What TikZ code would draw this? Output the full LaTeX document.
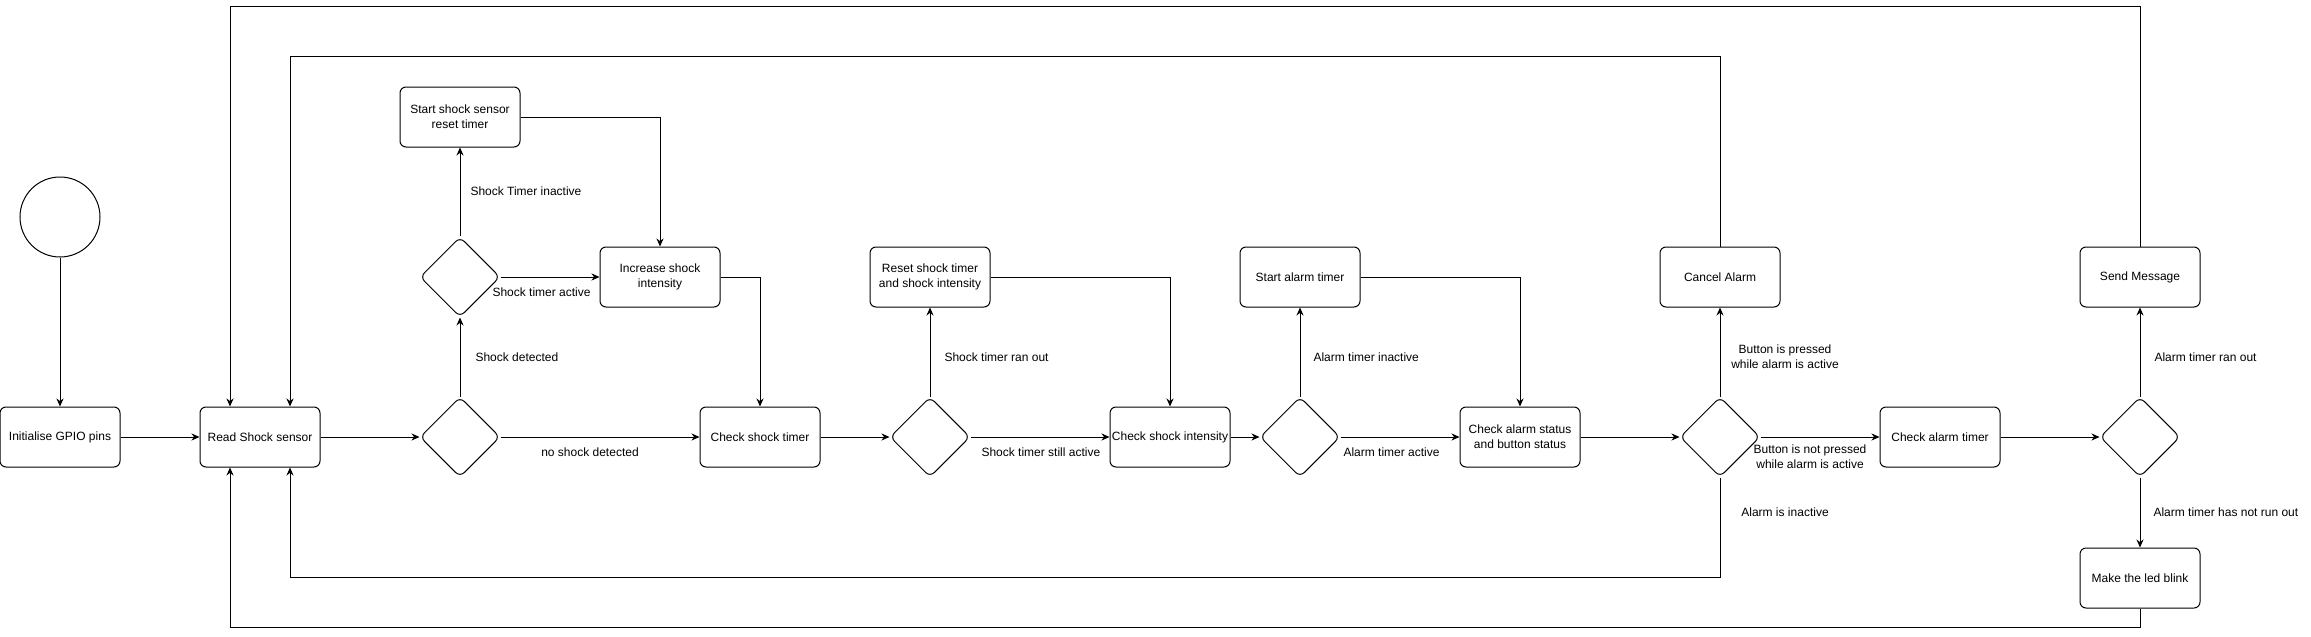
\documentclass[tikz,border=0pt]{standalone}
\usepackage{fontspec}
\setmainfont{Liberation Sans}
\usetikzlibrary{shapes.geometric,arrows.meta}
\begin{document}
\begin{tikzpicture}[x=1pt,y=-1pt,line width=1pt,
  every node/.style={font=\fontsize{12}{15}\selectfont},
  box/.style={draw,rounded corners=6,minimum width=120,minimum height=60,inner sep=1pt,align=center},
  dec/.style={draw,diamond,rounded corners=6,minimum width=80,minimum height=80,inner sep=0pt},
  lab/.style={inner sep=0pt,align=center},
  arr/.style={-{Stealth[length=8pt,width=7pt]}}]
\useasboundingbox (0,0) rectangle (2311,637);
\node[draw,circle,minimum size=80,inner sep=0pt] (start) at (60,217) {};
\node[box] (init) at (60,437) {Initialise GPIO pins};
\node[box] (read) at (260,437) {Read Shock sensor};
\node[dec] (dshock) at (460,437) {};
\node[dec] (dtimer) at (460,277) {};
\node[box] (startsh) at (460,117) {Start shock sensor\\reset timer};
\node[box] (incr) at (660,277) {Increase shock\\intensity};
\node[box] (chktimer) at (760,437) {Check shock timer};
\node[dec] (dran) at (930,437) {};
\node[box] (reset) at (930,277) {Reset shock timer\\and shock intensity};
\node[box] (chkint) at (1170,437) {Check shock intensity};
\node[dec] (dalarm) at (1300,437) {};
\node[box] (startal) at (1300,277) {Start alarm timer};
\node[box] (chkstat) at (1520,437) {Check alarm status\\and button status};
\node[dec] (dbutton) at (1720,437) {};
\node[box] (cancel) at (1720,277) {Cancel Alarm};
\node[box] (chkal) at (1940,437) {Check alarm timer};
\node[dec] (dalrun) at (2140,437) {};
\node[box] (send) at (2140,277) {Send Message};
\node[box] (blink) at (2140,578) {Make the led blink};
\draw[arr] (start) -- (init);
\draw[arr] (init) -- (read);
\draw[arr] (read) -- (dshock);
\draw[arr] (dshock) -- (dtimer);
\draw[arr] (dshock) -- (chktimer);
\draw[arr] (dtimer) -- (startsh);
\draw[arr] (dtimer) -- (incr);
\draw[arr] (startsh.east) -| (incr.north);
\draw[arr] (incr.east) -| (chktimer.north);
\draw[arr] (chktimer) -- (dran);
\draw[arr] (dran) -- (reset);
\draw[arr] (dran) -- (chkint);
\draw[arr] (reset.east) -| (chkint.north);
\draw[arr] (chkint) -- (dalarm);
\draw[arr] (dalarm) -- (startal);
\draw[arr] (dalarm) -- (chkstat);
\draw[arr] (startal.east) -| (chkstat.north);
\draw[arr] (chkstat) -- (dbutton);
\draw[arr] (dbutton) -- (cancel);
\draw[arr] (dbutton) -- (chkal);
\draw[arr] (chkal) -- (dalrun);
\draw[arr] (dalrun) -- (send);
\draw[arr] (dalrun) -- (blink);
\draw[arr] (cancel.north) -- ++(0,-190) -| ([xshift=30pt]read.north);
\draw[arr] (send.north) -- ++(0,-240) -| ([xshift=-30pt]read.north);
\draw[arr] (dbutton.south) -- ++(0,100) -| ([xshift=30pt]read.south);
\draw[arr] (blink.south) -- ++(0,19) -| ([xshift=-30pt]read.south);
\node[lab,anchor=west] (l1) at (470,191) {Shock Timer inactive};
\node[lab,anchor=west] (l2) at (492,292) {Shock timer active};
\node[lab,anchor=west] (l3) at (475,357) {Shock detected};
\node[lab] (l4) at (590,452) {no shock detected};
\node[lab,anchor=west] (l5) at (944,357) {Shock timer ran out};
\node[lab,anchor=west] (l6) at (981,452) {Shock timer still active};
\node[lab,anchor=west] (l7) at (1313,357) {Alarm timer inactive};
\node[lab,anchor=west] (l8) at (1343,452) {Alarm timer active};
\node[lab] (l9) at (1785,357) {Button is pressed\\while alarm is active};
\node[lab] (l10) at (1810,457) {Button is not pressed\\while alarm is active};
\node[lab] (l11) at (1785,512) {Alarm is inactive};
\node[lab,anchor=west] (l12) at (2154,357) {Alarm timer ran out};
\node[lab,anchor=west] (l13) at (2153,512) {Alarm timer has not run out};
\end{tikzpicture}
\end{document}
